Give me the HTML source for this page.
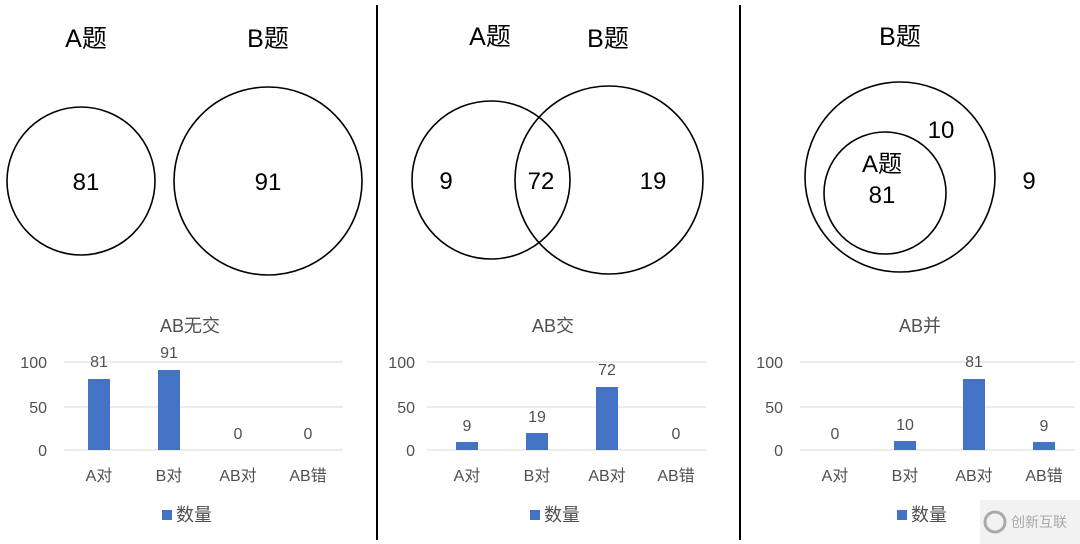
<!DOCTYPE html>
<html><head><meta charset="utf-8"><style>
body{margin:0;background:#fff;}
svg{display:block;font-family:"Liberation Sans","Noto Sans CJK SC",sans-serif;}
.t{font-size:25px;fill:#000;text-anchor:middle;}
.n{font-size:24px;fill:#000;text-anchor:middle;}
.ct{font-size:18px;fill:#505050;text-anchor:middle;}
.ax{font-size:16px;fill:#505050;}
.g{stroke:#d9d9d9;stroke-width:1;}
.b{fill:#4472c4;}
</style></head><body>
<svg width="1080" height="544" viewBox="0 0 1080 544">
<rect width="1080" height="544" fill="#fff"/>
<line x1="377" y1="5" x2="377" y2="540" stroke="#000" stroke-width="2"/>
<line x1="740" y1="5" x2="740" y2="540" stroke="#000" stroke-width="2"/>
<g fill="none" stroke="#000" stroke-width="1.6">
<circle cx="81" cy="181" r="74"/>
<circle cx="268" cy="181" r="94"/>
<circle cx="491" cy="180" r="79"/>
<circle cx="609" cy="180" r="94"/>
<circle cx="900" cy="177" r="95"/>
<circle cx="885" cy="193" r="61"/>
</g>
<text class="t" x="86" y="47">A题</text>
<text class="t" x="268" y="47">B题</text>
<text class="t" x="490" y="45">A题</text>
<text class="t" x="608" y="47">B题</text>
<text class="t" x="900" y="45">B题</text>
<text class="n" x="86" y="190">81</text>
<text class="n" x="268" y="190">91</text>
<text class="n" x="446" y="189">9</text>
<text class="n" x="541" y="189">72</text>
<text class="n" x="653" y="189">19</text>
<text class="n" x="941" y="138">10</text>
<text class="n" x="1029" y="189">9</text>
<text class="n" x="882" y="172">A题</text>
<text class="n" x="882" y="203">81</text>

<!-- chart 1 -->
<text class="ct" x="190" y="332">AB无交</text>
<g class="g"><line x1="64" y1="362" x2="343" y2="362"/><line x1="64" y1="407" x2="343" y2="407"/><line x1="64" y1="450" x2="343" y2="450"/></g>
<g class="ax" text-anchor="end"><text x="47" y="368">100</text><text x="47" y="413">50</text><text x="47" y="456">0</text></g>
<rect class="b" x="88" y="379" width="22" height="71"/>
<rect class="b" x="158" y="370" width="22" height="80"/>
<g class="ax" text-anchor="middle"><text x="99" y="367">81</text><text x="169" y="358">91</text><text x="238" y="439">0</text><text x="308" y="439">0</text>
<text x="99" y="481">A对</text><text x="169" y="481">B对</text><text x="238" y="481">AB对</text><text x="308" y="481">AB错</text></g>
<rect class="b" x="162" y="510" width="10" height="10"/><text class="ax" x="176" y="521" style="font-size:18px">数量</text>

<!-- chart 2 -->
<text class="ct" x="553" y="332">AB交</text>
<g class="g"><line x1="427" y1="362" x2="706" y2="362"/><line x1="427" y1="407" x2="706" y2="407"/><line x1="427" y1="450" x2="706" y2="450"/></g>
<g class="ax" text-anchor="end"><text x="415" y="368">100</text><text x="415" y="413">50</text><text x="415" y="456">0</text></g>
<rect class="b" x="456" y="442" width="22" height="8"/>
<rect class="b" x="526" y="433" width="22" height="17"/>
<rect class="b" x="596" y="387" width="22" height="63"/>
<g class="ax" text-anchor="middle"><text x="467" y="431">9</text><text x="537" y="422">19</text><text x="607" y="375">72</text><text x="676" y="439">0</text>
<text x="467" y="481">A对</text><text x="537" y="481">B对</text><text x="607" y="481">AB对</text><text x="676" y="481">AB错</text></g>
<rect class="b" x="530" y="510" width="10" height="10"/><text class="ax" x="544" y="521" style="font-size:18px">数量</text>

<!-- chart 3 -->
<text class="ct" x="920" y="332">AB并</text>
<g class="g"><line x1="800" y1="362" x2="1075" y2="362"/><line x1="800" y1="407" x2="1075" y2="407"/><line x1="800" y1="450" x2="1075" y2="450"/></g>
<g class="ax" text-anchor="end"><text x="783" y="368">100</text><text x="783" y="413">50</text><text x="783" y="456">0</text></g>
<rect class="b" x="894" y="441" width="22" height="9"/>
<rect class="b" x="963" y="379" width="22" height="71"/>
<rect class="b" x="1033" y="442" width="22" height="8"/>
<g class="ax" text-anchor="middle"><text x="835" y="439">0</text><text x="905" y="430">10</text><text x="974" y="367">81</text><text x="1044" y="431">9</text>
<text x="835" y="481">A对</text><text x="905" y="481">B对</text><text x="974" y="481">AB对</text><text x="1044" y="481">AB错</text></g>
<rect class="b" x="897" y="510" width="10" height="10"/><text class="ax" x="911" y="521" style="font-size:18px">数量</text>
<rect x="980" y="500" width="100" height="44" fill="#f2f2f2"/>
<circle cx="995" cy="522" r="10" fill="none" stroke="#aaa" stroke-width="3"/>
<text x="1011" y="527" style="font-size:14px" fill="#aaa">创新互联</text>
</svg>
</body></html>
